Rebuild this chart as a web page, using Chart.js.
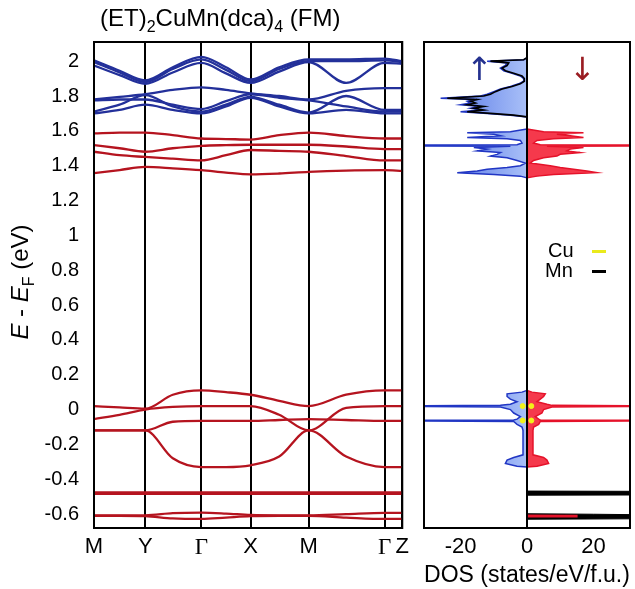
<!DOCTYPE html>
<html>
<head>
<meta charset="utf-8">
<script src="https://cdn.jsdelivr.net/npm/chart.js@4.4.1/dist/chart.umd.min.js"></script>
<style>
  body { margin: 0; background: #fff; width: 635px; height: 589px; position: relative; overflow: hidden;
         font-family: "Liberation Sans", Arial, sans-serif; color: #000; }
  canvas { position: absolute; top: 0; }
  #bands { left: 0; }
  #dos { left: 415px; }
  .t { position: absolute; white-space: nowrap; }
  .sub { font-size: 16px; position: relative; top: 6px; }
</style>
</head>
<body>
<canvas id="bands" width="415" height="589"></canvas>
<canvas id="dos" width="220" height="589"></canvas>

<div class="t" style="left:100px; top:4px; font-size:24px;">(ET)<span class="sub">2</span>CuMn(dca)<span class="sub">4</span> (FM)</div>
<div class="t" style="left:-80px; top:268px; width:200px; text-align:center; font-size:24px; transform:rotate(-90deg);"><i>E</i> - <i>E</i><span class="sub">F</span> (eV)</div>
<div class="t" style="left:466px; top:50px; font-size:32px; color:#24318f; font-family:'DejaVu Sans';">↑</div>
<div class="t" style="left:569px; top:50px; font-size:32px; color:#9a1c22; font-family:'DejaVu Sans';">↓</div>
<div class="t" style="left:548px; top:239px; font-size:20px;">Cu</div>
<div class="t" style="left:592px; top:250px; width:14px; height:3px; background:#eaea1c;"></div>
<div class="t" style="left:545px; top:259px; font-size:20px;">Mn</div>
<div class="t" style="left:592px; top:270px; width:14px; height:3px; background:#000;"></div>

<script>
// k-path sample positions (arbitrary distance units) and high-symmetry points
var kPath = [0, 26, 52, 80, 109, 134, 159, 188, 218, 256, 295, 313];
var kTicks = [0, 52, 109, 159, 218, 295, 313];
var kLabels = ['M', 'Y', 'Γ', 'X', 'M', 'Γ', 'Z'];
var eTicks = [2, 1.8, 1.6, 1.4, 1.2, 1, 0.8, 0.6, 0.4, 0.2, 0, -0.2, -0.4, -0.6];
var eMin = -0.68, eMax = 2.11;

// spin-up bands (blue), one value per kPath entry
var upBands = [
  [2.005, 1.945, 1.89, 1.965, 2.025, 1.965, 1.895, 1.965, 2.01, 2.01, 2.015, 2.0],
  [1.995, 1.935, 1.88, 1.955, 2.01, 1.95, 1.885, 1.955, 2.0, 2.0, 2.005, 1.995],
  [1.975, 1.92, 1.87, 1.935, 1.99, 1.93, 1.875, 1.94, 1.995, 1.875, 1.99, 1.985],
  [1.78, 1.795, 1.81, 1.835, 1.85, 1.835, 1.815, 1.8, 1.78, 1.83, 1.845, 1.845],
  [1.775, 1.78, 1.78, 1.75, 1.725, 1.77, 1.81, 1.79, 1.775, 1.74, 1.71, 1.71],
  [1.71, 1.75, 1.805, 1.74, 1.71, 1.75, 1.795, 1.75, 1.705, 1.8, 1.72, 1.72],
  [1.70, 1.72, 1.75, 1.72, 1.70, 1.74, 1.79, 1.74, 1.70, 1.72, 1.70, 1.70]
];

// spin-down bands (red)
var dnBands = [
  [1.585, 1.59, 1.59, 1.575, 1.556, 1.553, 1.55, 1.575, 1.59, 1.57, 1.556, 1.556],
  [1.518, 1.50, 1.48, 1.50, 1.514, 1.518, 1.52, 1.52, 1.52, 1.51, 1.495, 1.495],
  [1.48, 1.46, 1.45, 1.44, 1.43, 1.46, 1.49, 1.485, 1.48, 1.455, 1.43, 1.43],
  [1.357, 1.375, 1.393, 1.385, 1.374, 1.36, 1.35, 1.355, 1.365, 1.372, 1.374, 1.37],
  [0.02, 0.012, 0.005, 0.085, 0.11, 0.1, 0.085, 0.05, 0.02, 0.085, 0.11, 0.11],
  [-0.055, -0.03, 0.0, 0.015, 0.02, 0.02, 0.02, -0.03, -0.12, 0.01, 0.02, 0.02],
  [-0.12, -0.12, -0.12, -0.07, -0.065, -0.065, -0.065, -0.06, -0.055, -0.06, -0.065, -0.065],
  [-0.12, -0.12, -0.12, -0.28, -0.33, -0.33, -0.32, -0.27, -0.12, -0.27, -0.33, -0.33],
  [-0.476, -0.476, -0.476, -0.476, -0.476, -0.476, -0.476, -0.476, -0.476, -0.476, -0.476, -0.476],
  [-0.484, -0.484, -0.484, -0.484, -0.484, -0.484, -0.484, -0.484, -0.484, -0.484, -0.484, -0.484],
  [-0.607, -0.607, -0.607, -0.595, -0.592, -0.597, -0.605, -0.607, -0.607, -0.60, -0.593, -0.593],
  [-0.61, -0.61, -0.612, -0.625, -0.628, -0.62, -0.612, -0.61, -0.61, -0.62, -0.628, -0.628]
];

// DOS, pairs of [energy, states/eV/f.u.]; spin up negative
var dosTicks = [-20, 0, 20];
var dosUp = [
  [2.15, 0], [2.02, 0], [2.008, -1], [2.0, -12], [1.99, -6], [1.975, -6.5], [1.96, -8], [1.945, -7],
  [1.93, -4.5], [1.915, -2], [1.9, -1], [1.885, -1], [1.87, -2.5], [1.855, -5], [1.84, -8], [1.825, -10],
  [1.81, -12], [1.8, -14], [1.787, -26], [1.78, -16], [1.77, -18], [1.76, -17], [1.75, -20], [1.74, -14],
  [1.73, -17], [1.72, -14], [1.71, -20], [1.7, -12], [1.69, -5], [1.68, 0],
  [1.61, 0], [1.595, -5], [1.589, -18], [1.58, -10], [1.572, -8], [1.562, -18], [1.555, -6], [1.545, -2],
  [1.53, -1.5], [1.52, -3], [1.5175, -45], [1.5145, -45], [1.512, -5], [1.505, -16], [1.495, -12],
  [1.485, -15], [1.475, -8], [1.465, -9], [1.455, -11], [1.445, -6], [1.43, -3], [1.415, -0.5], [1.4, -2],
  [1.39, -6], [1.38, -12], [1.37, -15], [1.36, -21], [1.35, -10], [1.34, -2], [1.33, 0],
  [0.11, 0], [0.1, -1.5], [0.09, -6], [0.075, -6], [0.06, -5], [0.045, -3], [0.03, -5], [0.024, -8],
  [0.021, -45], [0.018, -45], [0.015, -8], [0.0, -5], [-0.02, -4], [-0.04, -2], [-0.055, -3], [-0.06, -4],
  [-0.062, -45], [-0.065, -45], [-0.068, -4], [-0.085, -3], [-0.1, -1.5], [-0.12, -1.2], [-0.26, -1.2],
  [-0.275, -4], [-0.29, -6], [-0.31, -6.5], [-0.325, -3], [-0.33, 0], [-0.75, 0]
];
var dosDn = [
  [2.15, 0], [1.61, 0], [1.595, 5], [1.589, 17], [1.58, 9], [1.572, 13], [1.562, 17], [1.555, 8], [1.545, 3],
  [1.53, 2], [1.52, 4], [1.5175, 45], [1.5145, 45], [1.512, 6], [1.505, 17], [1.495, 13], [1.485, 12],
  [1.475, 16], [1.465, 10], [1.455, 9], [1.445, 5], [1.43, 2], [1.415, 1], [1.4, 7], [1.39, 10], [1.38, 14],
  [1.37, 18], [1.36, 21], [1.35, 8], [1.34, 3], [1.33, 0],
  [0.11, 0], [0.1, 1.5], [0.09, 5.5], [0.075, 5], [0.06, 4], [0.045, 3], [0.03, 6], [0.024, 7.5],
  [0.021, 45], [0.018, 45], [0.015, 7.5], [0.0, 5], [-0.02, 4.5], [-0.04, 2.5], [-0.055, 3.5], [-0.06, 4],
  [-0.062, 45], [-0.065, 45], [-0.068, 4], [-0.085, 3.5], [-0.1, 2], [-0.12, 1.8], [-0.26, 1.8],
  [-0.275, 5], [-0.29, 6], [-0.31, 6.5], [-0.325, 3], [-0.33, 0],
  [-0.607, 0], [-0.608, 15], [-0.615, 15], [-0.616, 0], [-0.75, 0]
];
var mnUp = [
  [2.02, 0], [2.008, -1], [2.0, -11], [1.99, -5.5], [1.975, -6], [1.96, -7.5], [1.945, -6.5], [1.93, -4],
  [1.915, -1.5], [1.9, -0.8], [1.885, -0.8], [1.87, -2], [1.855, -4.5], [1.84, -7.5], [1.825, -9.5],
  [1.81, -11], [1.8, -13], [1.787, -24], [1.78, -15], [1.77, -17], [1.76, -15.5], [1.75, -18], [1.74, -13],
  [1.73, -16], [1.72, -13], [1.71, -18], [1.7, -11], [1.69, -4], [1.68, 0]
];
var mnDn = [
  [-0.468, 0], [-0.47, 45], [-0.49, 45], [-0.492, 0],
  [-0.598, 0], [-0.601, 20], [-0.606, 45], [-0.626, 45], [-0.63, 0]
];
var cuPeaks = [[0.02, -1.3], [0.02, 1.3], [-0.063, -1.3], [-0.063, 1.3]];

function bandSet(vals, color) {
  return {
    data: kPath.map(function (k, i) { return { x: k, y: vals[i] }; }),
    borderColor: color, borderWidth: 2.3, pointRadius: 0, fill: false,
    cubicInterpolationMode: 'monotone'
  };
}
function dosXY(pairs) {
  return pairs.map(function (p) { return { x: p[1], y: p[0] }; });
}
var hideZero = {
  borderColor: function (ctx) {
    return (ctx.p0.parsed.x === 0 && ctx.p1.parsed.x === 0) ? 'rgba(0,0,0,0)' : undefined;
  }
};
function upFill(ctx) {
  var chart = ctx.chart, a = chart.chartArea;
  if (!a) return '#7f99ef';
  var x0 = chart.scales.x.getPixelForValue(0);
  var g = chart.ctx.createLinearGradient(a.left + 20, 0, x0, 0);
  g.addColorStop(0, '#5676e6');
  g.addColorStop(1, '#a9c0f8');
  return g;
}

// black frame around the plot area, plus DOS zero line
var frame = {
  id: 'frame',
  afterDatasetsDraw: function (chart) {
    var a = chart.chartArea, ctx = chart.ctx;
    ctx.save();
    ctx.strokeStyle = '#000';
    ctx.lineWidth = 2;
    ctx.strokeRect(a.left, a.top, a.right - a.left, a.bottom - a.top);
    if (chart.canvas.id === 'dos') {
      var x0 = chart.scales.x.getPixelForValue(0);
      ctx.beginPath();
      ctx.moveTo(x0, a.top);
      ctx.lineTo(x0, a.bottom);
      ctx.stroke();
    }
    ctx.restore();
  }
};

var datasets = upBands.map(function (b) { return bandSet(b, '#23309a'); })
  .concat(dnBands.map(function (b) { return bandSet(b, '#b5141f'); }));

new Chart(document.getElementById('bands'), {
  type: 'line',
  data: { datasets: datasets },
  options: {
    responsive: false,
    animation: false,
    layout: { padding: { left: 0, right: 8, top: 42, bottom: 0 } },
    plugins: { legend: { display: false }, tooltip: { enabled: false } },
    scales: {
      x: {
        type: 'linear', min: 0, max: 313,
        afterBuildTicks: function (s) { s.ticks = kTicks.map(function (v) { return { value: v }; }); },
        afterFit: function (s) { s.height = 61; },
        ticks: {
          autoSkip: false, maxRotation: 0, padding: 6, color: '#000',
          callback: function (v, i) { return kLabels[i]; },
          font: function (c) {
            return kLabels[c.index] === 'Γ' ? { family: 'Liberation Serif', size: 23 } : { family: 'Liberation Sans', size: 22 };
          }
        },
        grid: { color: '#000', lineWidth: 2, drawTicks: false },
        border: { display: false }
      },
      y: {
        type: 'linear', min: eMin, max: eMax,
        afterBuildTicks: function (s) { s.ticks = eTicks.map(function (v) { return { value: v }; }); },
        afterFit: function (s) { s.width = 94; },
        ticks: {
          padding: 15, color: '#000', font: { family: 'Liberation Sans', size: 20 },
          callback: function (v) { return String(v); }
        },
        grid: { display: false, drawTicks: false },
        border: { display: false }
      }
    }
  },
  plugins: [frame]
});

new Chart(document.getElementById('dos'), {
  type: 'line',
  data: {
    datasets: [
      { data: dosXY(cuPeaks), order: 0, showLine: false, pointRadius: 2.5, pointBackgroundColor: '#f2f21a', pointBorderColor: '#f2f21a' },
      { data: dosXY(mnUp), order: 1, borderColor: '#000', fill: false, borderWidth: 1.6, pointRadius: 0, segment: hideZero },
      { data: dosXY(dosUp), order: 2, borderColor: '#2136c4', backgroundColor: upFill, fill: 'origin', borderWidth: 1.5, pointRadius: 0, segment: hideZero },
      { data: dosXY(dosDn), order: 3, borderColor: '#e5122a', backgroundColor: '#f5394c', fill: 'origin', borderWidth: 1.5, pointRadius: 0, segment: hideZero },
      { data: dosXY(mnDn), order: 4, borderColor: '#000', backgroundColor: '#000', fill: 'origin', borderWidth: 1, pointRadius: 0, segment: hideZero }
    ]
  },
  options: {
    indexAxis: 'y',
    responsive: false,
    animation: false,
    layout: { padding: { left: 9, right: 2, top: 42, bottom: 0 } },
    plugins: { legend: { display: false }, tooltip: { enabled: false } },
    scales: {
      x: {
        type: 'linear', min: -31, max: 31,
        afterBuildTicks: function (s) { s.ticks = dosTicks.map(function (v) { return { value: v }; }); },
        afterFit: function (s) { s.height = 61; },
        ticks: { padding: 6, color: '#000', font: { family: 'Liberation Sans', size: 22 },
                 callback: function (v) { return String(v); } },
        grid: { display: false, drawTicks: false },
        border: { display: false },
        title: { display: true, text: 'DOS (states/eV/f.u.)', color: '#000', padding: { top: 0, bottom: 0 },
                 font: { family: 'Liberation Sans', size: 23 } }
      },
      y: { type: 'linear', min: eMin, max: eMax, display: false }
    }
  },
  plugins: [frame]
});
</script>
</body>
</html>
